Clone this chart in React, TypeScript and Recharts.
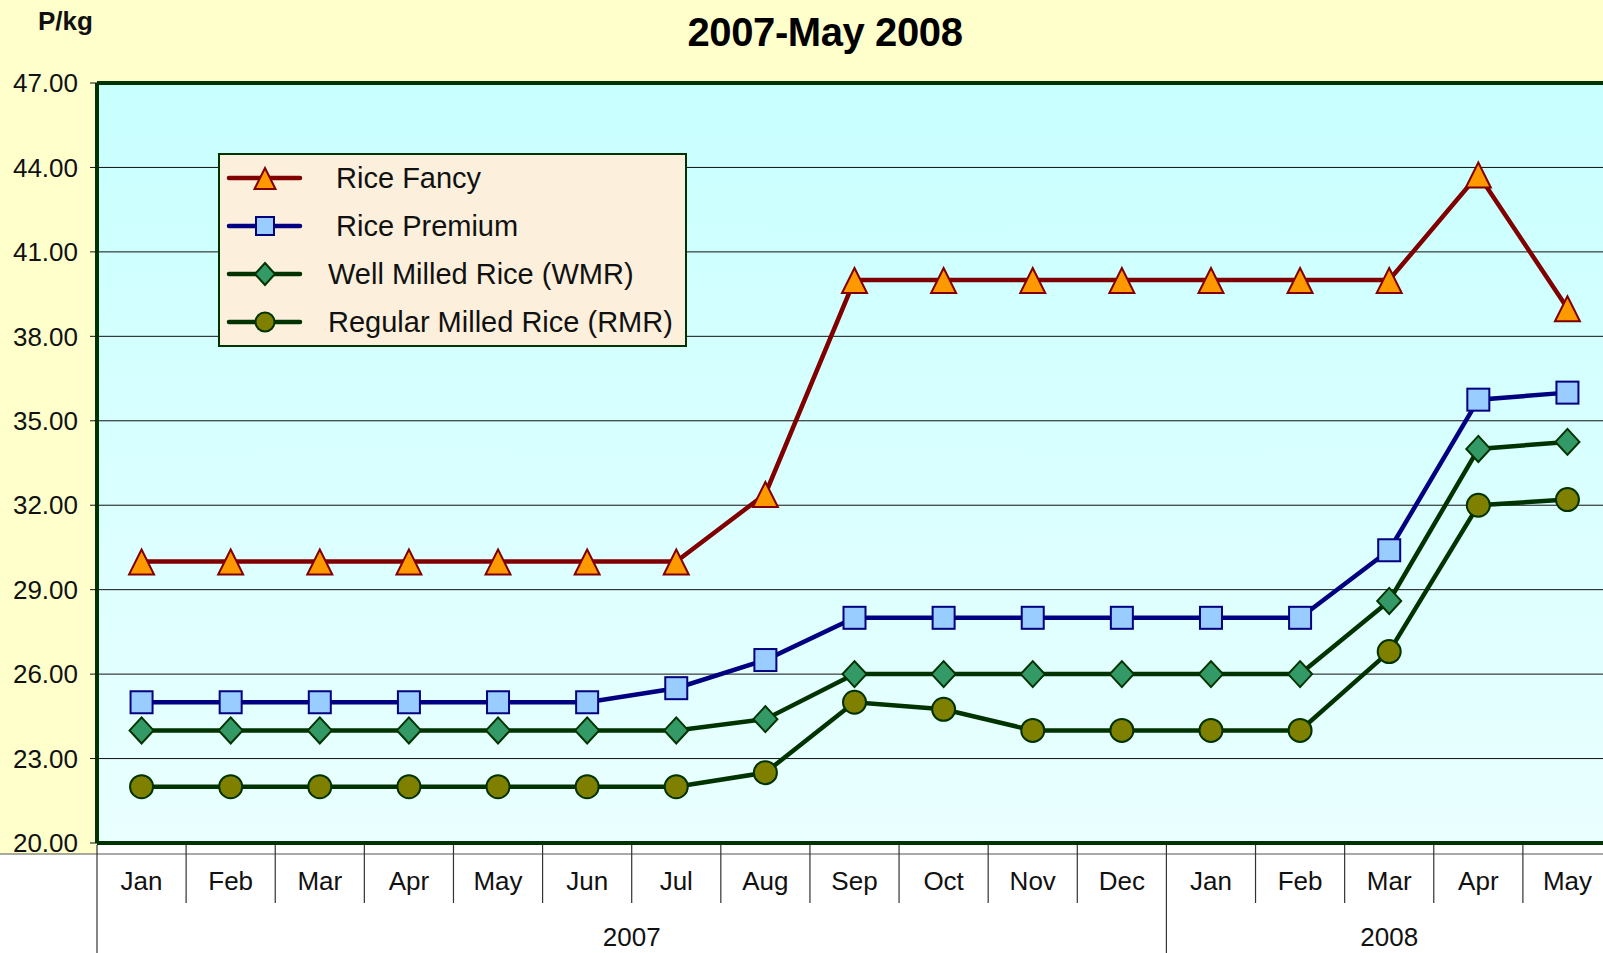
import { LineChart, Line, XAxis, YAxis, CartesianGrid, ReferenceLine, Legend } from 'recharts';

const months = ['Jan', 'Feb', 'Mar', 'Apr', 'May', 'Jun', 'Jul', 'Aug', 'Sep', 'Oct', 'Nov', 'Dec', 'Jan', 'Feb', 'Mar', 'Apr', 'May'];
const years = ['2007', '2007', '2007', '2007', '2007', '2007', '2007', '2007', '2007', '2007', '2007', '2007', '2008', '2008', '2008', '2008', '2008'];

const riceFancy = [30, 30, 30, 30, 30, 30, 30, 32.4, 40, 40, 40, 40, 40, 40, 40, 43.75, 39];
const ricePremium = [25, 25, 25, 25, 25, 25, 25.5, 26.5, 28, 28, 28, 28, 28, 28, 30.4, 35.75, 36];
const wellMilled = [24, 24, 24, 24, 24, 24, 24, 24.4, 26, 26, 26, 26, 26, 26, 28.6, 34, 34.25];
const regularMilled = [22, 22, 22, 22, 22, 22, 22, 22.5, 25, 24.75, 24, 24, 24, 24, 26.8, 32, 32.2];

const yTicks = [20, 23, 26, 29, 32, 35, 38, 41, 44, 47];

const title = '2007-May 2008';
const unitLabel = 'P/kg';

// chart geometry (the plot runs a little past the right edge of the page, like the source)
const W = 1620;
const H = 953;
const PLOT_LEFT = 97;
const PLOT_TOP = 83;
const PLOT_BOTTOM = 843;
const PLOT_RIGHT = 1612;
const BAND = (PLOT_RIGHT - PLOT_LEFT) / months.length;

const FONT = '"Liberation Sans", Arial, Helvetica, sans-serif';
const BORDER = '#003300';

type Shape = 'triangle' | 'square' | 'diamond' | 'circle';

interface SeriesDef {
  key: string;
  name: string;
  values: number[];
  stroke: string;
  fill: string;
  shape: Shape;
}

const series: SeriesDef[] = [
  { key: 'fancy', name: ' Rice Fancy', values: riceFancy, stroke: '#800000', fill: '#FF9900', shape: 'triangle' },
  { key: 'premium', name: ' Rice Premium', values: ricePremium, stroke: '#000080', fill: '#99CCFF', shape: 'square' },
  { key: 'wmr', name: 'Well Milled Rice (WMR)', values: wellMilled, stroke: '#003300', fill: '#339966', shape: 'diamond' },
  { key: 'rmr', name: 'Regular Milled Rice (RMR)', values: regularMilled, stroke: '#003300', fill: '#808000', shape: 'circle' },
];

const data = months.map((month, i) => {
  const row: Record<string, string | number> = { month, year: years[i] };
  series.forEach((s) => {
    row[s.key] = s.values[i];
  });
  return row;
});

function marker(shape: Shape, cx: number, cy: number, size: number, fill: string, stroke: string, key?: string) {
  const h = size / 2;
  if (shape === 'triangle') {
    const d = `M${cx},${cy - h} L${cx + h + 0.5},${cy + h + 1} L${cx - h - 0.5},${cy + h + 1} Z`;
    return <path key={key} d={d} fill={fill} stroke={stroke} strokeWidth={2} strokeLinejoin="miter" />;
  }
  if (shape === 'square') {
    const s = size - 2;
    return <rect key={key} x={cx - s / 2} y={cy - s / 2} width={s} height={s} fill={fill} stroke={stroke} strokeWidth={2} />;
  }
  if (shape === 'diamond') {
    const d = `M${cx},${cy - h - 1} L${cx + h},${cy} L${cx},${cy + h + 1} L${cx - h},${cy} Z`;
    return <path key={key} d={d} fill={fill} stroke={stroke} strokeWidth={2} />;
  }
  return <circle key={key} cx={cx} cy={cy} r={h - 0.5} fill={fill} stroke={stroke} strokeWidth={2} />;
}

function makeDot(s: SeriesDef) {
  return (props: any) => {
    const { cx, cy, index } = props;
    if (cx == null || cy == null) return <g key={`${s.key}-${index}`} />;
    return marker(s.shape, cx, cy, 24, s.fill, s.stroke, `${s.key}-${index}`);
  };
}

function MonthTick(props: any) {
  const { x, payload } = props;
  const i: number = payload.index;
  const left = x - BAND / 2;
  const firstOfYear = i === 0 || years[i] !== years[i - 1];
  const groupSize = years.filter((y) => y === years[i]).length;
  return (
    <g>
      {i === 0 && (
        <>
          <rect x={0} y={854} width={W} height={H - 854} fill="#ffffff" />
          <rect x={PLOT_LEFT} y={PLOT_BOTTOM + 2} width={W - PLOT_LEFT} height={854 - PLOT_BOTTOM} fill="#ffffff" />
          <line x1={0} x2={W} y1={854} y2={854} stroke="#555" strokeWidth={1.2} />
        </>
      )}
      <line x1={left} x2={left} y1={PLOT_BOTTOM + 2} y2={firstOfYear ? H : 903} stroke="#333" strokeWidth={1.2} />
      <text x={x} y={881} textAnchor="middle" dominantBaseline="central" fontSize={26} fill="#111" fontFamily={FONT}>
        {payload.value}
      </text>
      {firstOfYear && (
        <text x={left + (groupSize * BAND) / 2} y={937} textAnchor="middle" dominantBaseline="central" fontSize={26} fill="#111" fontFamily={FONT}>
          {years[i]}
        </text>
      )}
    </g>
  );
}

function LegendBox() {
  return (
    <div
      style={{
        position: 'relative',
        width: 469,
        height: 194,
        boxSizing: 'border-box',
        background: '#FCF0DC',
        border: `2px solid ${BORDER}`,
        fontFamily: FONT,
      }}
    >
      {series.map((s, i) => {
        const center = 24 + i * 48;
        return (
          <div key={s.key} style={{ position: 'absolute', left: 0, top: center - 19, height: 36, width: 465 }}>
            <svg width={100} height={36} style={{ position: 'absolute', left: 0, top: 0 }}>
              <line x1={9} x2={80} y1={18} y2={18} stroke={s.stroke} strokeWidth={4.5} strokeLinecap="round" />
              {marker(s.shape, 45, 18, 20, s.fill, s.stroke)}
            </svg>
            <span
              style={{
                position: 'absolute',
                left: 108,
                top: 0,
                lineHeight: '36px',
                fontSize: 29,
                color: '#111',
                whiteSpace: 'pre',
              }}
            >
              {s.name}
            </span>
          </div>
        );
      })}
    </div>
  );
}

export default function App() {
  return (
    <div
      style={{
        position: 'fixed',
        left: 0,
        top: 0,
        width: 1603,
        height: 953,
        overflow: 'hidden',
        background: '#FFFFCC',
        fontFamily: FONT,
      }}
    >
      <div style={{ position: 'absolute', left: 38, top: 6, fontSize: 26, fontWeight: 'bold', color: '#111' }}>{unitLabel}</div>
      <div
        style={{
          position: 'absolute',
          left: 825,
          top: 10,
          transform: 'translateX(-50%)',
          fontSize: 40,
          fontWeight: 'bold',
          color: '#000',
          whiteSpace: 'nowrap',
          letterSpacing: -0.4,
        }}
      >
        {title}
      </div>
      <div style={{ position: 'absolute', left: 0, top: 0 }}>
        <LineChart width={W} height={H} data={data} margin={{ top: PLOT_TOP, right: W - PLOT_RIGHT, left: 0, bottom: 0 }}>
          <defs>
            <linearGradient id="plotBg" x1="0" y1="0" x2="0" y2="1">
              <stop offset="0%" stopColor="#C8FFFF" />
              <stop offset="100%" stopColor="#EAFFFF" />
            </linearGradient>
          </defs>
          <CartesianGrid vertical={false} fill="url(#plotBg)" fillOpacity={1} stroke="#111" strokeWidth={1} />
          <XAxis
            dataKey="month"
            height={H - PLOT_BOTTOM}
            interval={0}
            padding={{ left: BAND / 2, right: BAND / 2 }}
            axisLine={{ stroke: BORDER, strokeWidth: 4 }}
            tickLine={false}
            tick={<MonthTick />}
          />
          <YAxis
            width={PLOT_LEFT}
            domain={[20, 47]}
            ticks={yTicks}
            interval={0}
            allowDataOverflow
            tickFormatter={(v: number) => v.toFixed(2)}
            tick={{ fill: '#111', fontSize: 26, fontFamily: FONT }}
            tickSize={7}
            tickMargin={12}
            tickLine={{ stroke: '#111' }}
            axisLine={{ stroke: BORDER, strokeWidth: 4 }}
          />
          <ReferenceLine y={47} stroke={BORDER} strokeWidth={4} />
          {series.map((s) => (
            <Line
              key={s.key}
              type="linear"
              dataKey={s.key}
              name={s.name}
              stroke={s.stroke}
              strokeWidth={4.5}
              dot={makeDot(s)}
              activeDot={false}
              isAnimationActive={false}
            />
          ))}
          <Legend
            layout="vertical"
            align="center"
            verticalAlign="middle"
            content={<LegendBox />}
            wrapperStyle={{ left: 218, top: 153, width: 469, height: 194 }}
          />
        </LineChart>
      </div>
    </div>
  );
}
